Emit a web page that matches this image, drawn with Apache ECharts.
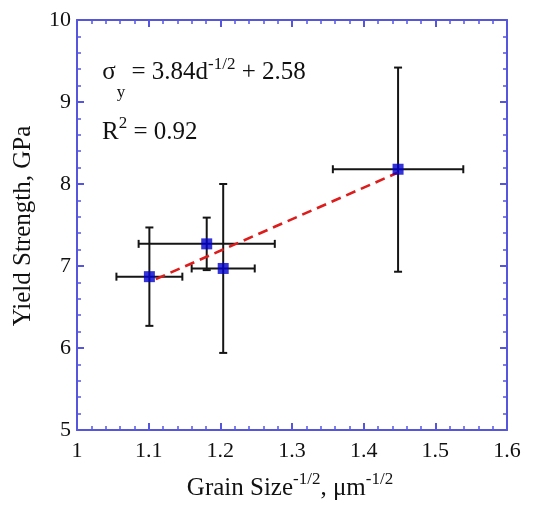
<!DOCTYPE html>
<html><head><meta charset="utf-8">
<script src="https://cdn.jsdelivr.net/npm/echarts@6/dist/echarts.min.js"></script>
<style>html,body{margin:0;padding:0;background:#fff}#c{width:555px;height:507px}</style>
</head><body><div id="c"></div>
<script>
// Data
var grainX = [1.101, 1.181, 1.204, 1.448];
var strengthY = [6.87, 7.27, 6.97, 8.18];
var xErr = [0.046, 0.095, 0.044, 0.091];
var yErrPlus = [0.60, 0.32, 1.03, 1.24];
var yErrMinus = [0.60, 0.32, 1.03, 1.25];
var fitX = [1.11, 1.448];
var fitY = [6.84, 8.14];
var xTicks = [1, 1.1, 1.2, 1.3, 1.4, 1.5, 1.6];
var yTicks = [5, 6, 7, 8, 9, 10];

var FONT = '"Liberation Serif", "DejaVu Serif", serif';
var FRAME = '#5555dd';

var points = grainX.map(function (x, i) { return [x, strengthY[i]]; });
var errData = grainX.map(function (x, i) {
  return [x, strengthY[i], xErr[i], yErrPlus[i], yErrMinus[i]];
});
var fitData = fitX.map(function (x, i) { return [x, fitY[i]]; });

var chart = echarts.init(document.getElementById('c'), null, {renderer: 'canvas'});

function axisCommon(show) {
  return {
    axisLine: {show: true, onZero: false, lineStyle: {color: FRAME, width: 2}},
    axisTick: {show: true, inside: true, length: 7, lineStyle: {color: FRAME, width: 2}},
    minorTick: {show: true, splitNumber: 5, length: 4, lineStyle: {color: FRAME, width: 1.5}},
    splitLine: {show: false},
    axisLabel: show ? {show: true, color: '#111', fontFamily: FONT, fontSize: 22} : {show: false}
  };
}

var xBase = Object.assign({type: 'value', min: xTicks[0], max: xTicks[xTicks.length - 1], interval: 0.1}, axisCommon(true));
xBase.axisLabel.margin = 10;
xBase.axisLabel.formatter = function (v) { return String(+v.toFixed(1)); };
var xTop = Object.assign({type: 'value', position: 'top', min: xTicks[0], max: xTicks[xTicks.length - 1], interval: 0.1}, axisCommon(false));
var yBase = Object.assign({type: 'value', min: yTicks[0], max: yTicks[yTicks.length - 1], interval: 1}, axisCommon(true));
yBase.axisLabel.margin = 6;
var yRight = Object.assign({type: 'value', position: 'right', min: yTicks[0], max: yTicks[yTicks.length - 1], interval: 1}, axisCommon(false));

var option = {
  backgroundColor: '#fff',
  animation: false,
  grid: {left: 77, right: 48, top: 20, bottom: 77, containLabel: false},
  xAxis: [xBase, xTop],
  yAxis: [yBase, yRight],
  series: [
    {
      type: 'custom',
      data: errData,
      z: 2,
      renderItem: function (params, api) {
        var x = api.value(0), y = api.value(1), ex = api.value(2), eyp = api.value(3), eym = api.value(4);
        var top = api.coord([x, y + eyp]);
        var bot = api.coord([x, y - eym]);
        var lft = api.coord([x - ex, y]);
        var rgt = api.coord([x + ex, y]);
        var c = 4;
        var st = {stroke: '#151515', lineWidth: 2};
        return {
          type: 'group',
          children: [
            {type: 'line', shape: {x1: top[0], y1: top[1], x2: bot[0], y2: bot[1]}, style: st},
            {type: 'line', shape: {x1: top[0] - c, y1: top[1], x2: top[0] + c, y2: top[1]}, style: st},
            {type: 'line', shape: {x1: bot[0] - c, y1: bot[1], x2: bot[0] + c, y2: bot[1]}, style: st},
            {type: 'line', shape: {x1: lft[0], y1: lft[1], x2: rgt[0], y2: rgt[1]}, style: st},
            {type: 'line', shape: {x1: lft[0], y1: lft[1] - c, x2: lft[0], y2: lft[1] + c}, style: st},
            {type: 'line', shape: {x1: rgt[0], y1: rgt[1] - c, x2: rgt[0], y2: rgt[1] + c}, style: st}
          ]
        };
      }
    },
    {
      type: 'line',
      data: fitData,
      z: 3,
      symbol: 'none',
      lineStyle: {color: '#dd1c1c', width: 2.6, type: [10, 6]}
    },
    {
      type: 'scatter',
      data: points,
      z: 4,
      symbol: 'rect',
      symbolSize: 11,
      itemStyle: {color: '#0000cd'}
    }
  ],
  graphic: [
    {
      type: 'text', left: 102, top: 44, z: 10,
      style: {
        text: '{z| }{a|σ}{s|y}{a| = 3.84d}{p|-1/2}{a| + 2.58}',
        rich: {
          z: {fontFamily: FONT, fontSize: 1, lineHeight: 57, verticalAlign: 'top'},
          a: {fontFamily: FONT, fontSize: 25, fill: '#111', lineHeight: 34, verticalAlign: 'middle'},
          s: {fontFamily: FONT, fontSize: 17, fill: '#111', verticalAlign: 'bottom', padding: [0, 0, 0, 1]},
          p: {fontFamily: FONT, fontSize: 17, fill: '#111', verticalAlign: 'middle', padding: [0, 0, 16, 0]}
        }
      }
    },
    {
      type: 'text', left: 102, top: 115, z: 10,
      style: {
        text: '{a|R}{p|2}{a| = 0.92}',
        rich: {
          a: {fontFamily: FONT, fontSize: 25, fill: '#111', lineHeight: 34, verticalAlign: 'middle'},
          p: {fontFamily: FONT, fontSize: 17, fill: '#111', verticalAlign: 'top'}
        }
      }
    },
    {
      type: 'text', x: 290, y: 488, z: 10,
      style: {
        text: '{a|Grain Size}{p|-1/2}{a|, μm}{p|-1/2}',
        align: 'center', verticalAlign: 'middle',
        rich: {
          a: {fontFamily: FONT, fontSize: 25, fill: '#111', lineHeight: 34, verticalAlign: 'middle'},
          p: {fontFamily: FONT, fontSize: 17, fill: '#111', verticalAlign: 'top'}
        }
      }
    },
    {
      type: 'text', x: 23, y: 226, rotation: Math.PI / 2, z: 10,
      style: {
        text: 'Yield Strength, GPa',
        align: 'center', verticalAlign: 'middle',
        fontFamily: FONT, fontSize: 25, fill: '#111'
      }
    }
  ]
};
chart.setOption(option);
</script>
</body></html>
